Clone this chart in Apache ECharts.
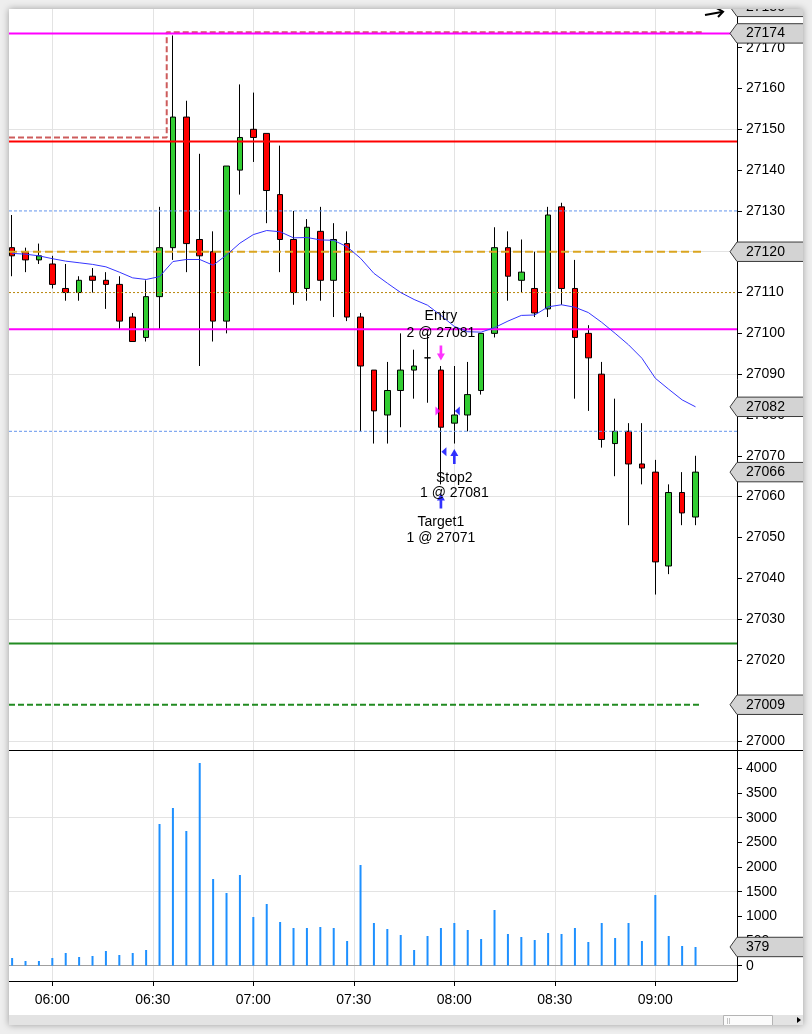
<!DOCTYPE html>
<html>
<head>
<meta charset="utf-8">
<title>YM 4 Minute</title>
<script src="https://cdn.jsdelivr.net/npm/echarts@6.0.0/dist/echarts.min.js"></script>
<style>
    * { padding: 0; margin: 0; }
    body { width: 812px; height: 1034px; background-color: #eeeeee; overflow: hidden; }
    #chart {
        position: absolute; left: 9px; top: 9px;
        width: 794px; height: 1016px;
        background-color: #ffffff;
        box-shadow: 0 0 7px rgba(0, 0, 0, 0.35);
        overflow: hidden;
    }
</style>
</head>
<body>
<div id="chart"></div>
<script>
    // 4 minute bars, time = minutes after midnight (05:48 .. 09:12)
    var barTimes = [348, 352, 356, 360, 364, 368, 372, 376, 380, 384, 388, 392, 396, 400, 404, 408, 412, 416,
        420, 424, 428, 432, 436, 440, 444, 448, 452, 456, 460, 464, 468, 472, 476, 480, 484, 488, 492, 496,
        500, 504, 508, 512, 516, 520, 524, 528, 532, 536, 540, 544, 548, 552];
    var opens = [27121, 27120, 27118, 27117, 27111, 27110, 27114, 27113, 27112, 27104, 27099, 27109, 27121, 27153,
        27123, 27120, 27103, 27140, 27150, 27149, 27134, 27123, 27111, 27125, 27113, 27122, 27104, 27091, 27080,
        27086, 27091, 27094, 27091, 27078, 27080, 27086, 27100, 27121, 27113, 27111, 27106, 27131, 27111, 27100,
        27090, 27073, 27076, 27068, 27066, 27043, 27061, 27055];
    var closes = [27119, 27118, 27119, 27112, 27110, 27113, 27113, 27112, 27103, 27098, 27109, 27121, 27153, 27122,
        27119, 27103, 27141, 27148, 27148, 27135, 27123, 27110, 27126, 27113, 27123, 27104, 27092, 27081, 27086,
        27091, 27092, 27094, 27077, 27080, 27085, 27100, 27121, 27114, 27115, 27105, 27129, 27111, 27099, 27094,
        27074, 27076, 27068, 27067, 27044, 27061, 27056, 27066];
    var lows = [27114, 27115, 27117, 27111, 27108, 27108, 27110, 27106, 27101, 27098, 27098, 27101, 27118, 27115,
        27092, 27098, 27100, 27134, 27142, 27127, 27115, 27107, 27108, 27108, 27104, 27103, 27076, 27073, 27073,
        27077, 27084, 27083, 27063, 27073, 27076, 27085, 27099, 27108, 27110, 27104, 27104, 27107, 27084, 27081,
        27072, 27065, 27053, 27063, 27036, 27041, 27053, 27053];
    var highs = [27129, 27121, 27122, 27119, 27117, 27114, 27116, 27115, 27114, 27105, 27113, 27131, 27173, 27157,
        27144, 27125, 27141, 27161, 27159, 27149, 27146, 27130, 27128, 27131, 27127, 27125, 27105, 27091, 27093,
        27100, 27096, 27100, 27092, 27092, 27093, 27100, 27126, 27125, 27123, 27120, 27131, 27132, 27118, 27102,
        27093, 27084, 27078, 27078, 27069, 27063, 27066, 27070];
    var volumes = [155, 95, 95, 155, 257, 176, 196, 297, 216, 257, 318, 2872, 3196, 2730, 4108, 1757, 1473, 1838,
        987, 1250, 885, 764, 764, 784, 764, 500, 2041, 865, 743, 622, 318, 601, 764, 865, 723, 541, 1128, 642,
        581, 520, 662, 642, 764, 480, 865, 561, 865, 500, 1432, 601, 399, 379];
    var maValues = [27119.6, 27119.4, 27119.0, 27118.3, 27117.7, 27117.3, 27116.9, 27116.3, 27115.0, 27113.6,
        27113.2, 27113.9, 27117.6, 27118.1, 27118.1, 27116.7, 27119.2, 27122.1, 27124.2, 27125.2, 27124.9,
        27123.4, 27123.5, 27122.9, 27122.8, 27121.2, 27118.4, 27114.7, 27112.3, 27110.0, 27108.3, 27106.9,
        27104.4, 27101.7, 27100.4, 27100.3, 27101.4, 27103.0, 27104.4, 27104.5, 27106.5, 27107.0, 27106.4,
        27105.1, 27102.7, 27100.0, 27097.2, 27093.9, 27089.0, 27086.3, 27083.7, 27082.0];

    // axis ticks
    var timeTicks = [360, 390, 420, 450, 480, 510, 540];
    var priceTicks = [27000, 27010, 27020, 27030, 27040, 27050, 27060, 27070, 27080, 27090, 27100, 27110, 27120,
        27130, 27140, 27150, 27160, 27170];
    var priceGrid = [27000, 27030, 27060, 27090, 27120, 27150];
    var volumeTicks = [0, 500, 1000, 1500, 2000, 2500, 3000, 3500, 4000];
    var volumeGrid = [1500, 3000];

    // drawn levels
    var highLevel = 27173.5;
    var boxLevel = 27148;
    var redLevel = 27147;
    var orangeLevel = 27120;
    var dottedLevel = 27110;
    var pinkLevel = 27101;
    var blueLevels = [27130, 27076];
    var greenLevel = 27024;
    var greenDashLevel = 27009;
    var boxStartTime = 394.15;
    var drawEndTime = 553.85;
    var topFlag = 27180;

    // executions
    var entryArrow = [[476, 27095.2]];
    var exitArrows = [[480, 27069.8], [476, 27058.9]];
    var entryFills = [[476, 27081]];
    var exitFills = [[480, 27081], [476, 27071]];
    var noteTimes = [476, 476, 480, 480, 476, 476];
    var notePrices = [27104.2, 27100.1, 27064.5, 27060.8, 27053.8, 27049.8];
    var noteTexts = ['Entry', '2 @ 27081', 'Stop2', '1 @ 27081', 'Target1', '1 @ 27071'];

    var XMIN = 347.07, XMAX = 564.38;
    var YMIN = 26997.91, YMAX = 27179.48;
    var VMIN = -310.7, VMAX = 4371.5;
    var FONT = '"Liberation Sans", Arial, sans-serif';

    function fmtTime(v) {
        var h = Math.floor(v / 60), m = Math.round(v % 60);
        return (h < 10 ? '0' : '') + h + ':' + (m < 10 ? '0' : '') + m;
    }
    function fmtPlain(v) { return String(Math.round(v)); }

    var candles = barTimes.map(function (t, i) { return [t, opens[i], closes[i], lows[i], highs[i]]; });
    var volData = barTimes.map(function (t, i) { return [t, volumes[i]]; });
    var maData = barTimes.map(function (t, i) { return [t, maValues[i]]; });

    function level(points, color, width, type, z) {
        return {
            type: 'line', xAxisIndex: 0, yAxisIndex: 0, data: points, symbol: 'none', silent: true, z: z || 4,
            lineStyle: { color: color, width: width, type: type || 'solid' }
        };
    }
    function gridLines(xi, yi, data, color) {
        return {
            type: 'line', xAxisIndex: xi, yAxisIndex: yi, data: [], silent: true, z: 1,
            markLine: {
                silent: true, symbol: 'none', z: 1, animation: false, label: { show: false },
                lineStyle: { color: color, width: 1, type: 'solid' },
                data: data
            }
        };
    }

    var arrowDown = 'path://M3,0 L6,0 L6,8 L9,8 L4.5,15 L0,8 L3,8 Z';
    var arrowUp = 'path://M4.5,0 L9,7 L6,7 L6,15 L3,15 L3,7 L0,7 Z';
    var triRight = 'path://M0,0 L5,4.5 L0,9 Z';
    var triLeft = 'path://M5,0 L0,4.5 L5,9 Z';

    var series = [
        gridLines(0, 0, priceGrid.map(function (v) { return { yAxis: v }; })
            .concat(timeTicks.map(function (t) { return { xAxis: t }; })), '#e3e3e3'),
        gridLines(1, 1, volumeGrid.map(function (v) { return { yAxis: v }; })
            .concat(timeTicks.map(function (t) { return { xAxis: t }; })), '#e3e3e3'),
        gridLines(1, 1, [{ yAxis: 0 }], '#a0a0a0'),
        {
            type: 'bar', xAxisIndex: 1, yAxisIndex: 1, data: volData, barWidth: 2, z: 3,
            itemStyle: { color: '#1E90FF' }, silent: true
        },
        {
            type: 'candlestick', xAxisIndex: 0, yAxisIndex: 0, data: candles, barWidth: 6, z: 3, silent: true,
            itemStyle: {
                color: '#32CD32', color0: '#FF0000',
                borderColor: '#000', borderColor0: '#000', borderColorDoji: '#000', borderWidth: 1
            }
        },
        level([[XMIN, boxLevel], [boxStartTime, boxLevel], [boxStartTime, highLevel + 0.3], [drawEndTime, highLevel + 0.3]],
            '#CD5C5C', 2, [6, 3]),
        level([[XMIN, highLevel], [XMAX, highLevel]], '#FF00FF', 2),
        level([[XMIN, redLevel], [XMAX, redLevel]], '#FF0000', 2),
        level([[XMIN, blueLevels[0]], [XMAX, blueLevels[0]]], '#6495ED', 1, [3, 2]),
        level([[XMIN, blueLevels[1]], [XMAX, blueLevels[1]]], '#6495ED', 1, [3, 2]),
        level([[XMIN, orangeLevel], [drawEndTime, orangeLevel]], '#DAA520', 2, [8, 4]),
        level([[XMIN, dottedLevel], [XMAX, dottedLevel]], '#B8860B', 1, [2, 2]),
        level([[XMIN, pinkLevel], [XMAX, pinkLevel]], '#FF00FF', 2),
        level([[XMIN, greenLevel], [XMAX, greenLevel]], '#228B22', 2),
        level([[XMIN, greenDashLevel], [drawEndTime, greenDashLevel]], '#228B22', 2, [6, 3]),
        {
            type: 'line', xAxisIndex: 0, yAxisIndex: 0, data: maData, symbol: 'none', silent: true, z: 5,
            lineStyle: { color: '#3535ff', width: 1 }
        },
        {
            type: 'scatter', xAxisIndex: 0, yAxisIndex: 0, data: entryArrow, symbol: arrowDown, symbolSize: [8, 15],
            itemStyle: { color: '#FF00FF' }, z: 6, silent: true
        },
        {
            type: 'scatter', xAxisIndex: 0, yAxisIndex: 0, data: exitArrows, symbol: arrowUp, symbolSize: [8, 15],
            itemStyle: { color: '#0000FF' }, z: 6, silent: true
        },
        {
            type: 'scatter', xAxisIndex: 0, yAxisIndex: 0, data: entryFills, symbol: triRight, symbolSize: [5, 9],
            symbolOffset: [-3, 0], itemStyle: { color: '#FF00FF' }, z: 6, silent: true
        },
        {
            type: 'scatter', xAxisIndex: 0, yAxisIndex: 0, data: exitFills, symbol: triLeft, symbolSize: [5, 9],
            symbolOffset: [3, 0], itemStyle: { color: '#0000FF' }, z: 6, silent: true
        },
        {
            type: 'scatter', xAxisIndex: 0, yAxisIndex: 0, z: 7, silent: true,
            data: noteTimes.map(function (t, i) { return [t, notePrices[i]]; }),
            symbolSize: 1, itemStyle: { color: 'rgba(0,0,0,0)' },
            label: {
                show: true, position: 'inside', color: '#000', fontSize: 14, fontFamily: FONT,
                textBorderWidth: 0, opacity: 1,
                formatter: function (p) { return noteTexts[p.dataIndex]; }
            }
        }
    ];

    var axisText = { color: '#000', fontSize: 14, fontFamily: FONT };
    var option = {
        animation: false,
        grid: [
            { left: 0, top: 0, width: 728, height: 741 },
            { left: 0, top: 741, width: 728, height: 231 }
        ],
        xAxis: [
            { gridIndex: 0, type: 'value', min: XMIN, max: XMAX, show: false },
            {
                gridIndex: 1, type: 'value', min: XMIN, max: XMAX,
                axisLine: { show: true, onZero: false, lineStyle: { color: '#000', width: 1 } },
                axisTick: { show: true, customValues: timeTicks, length: 5, lineStyle: { color: '#000' } },
                axisLabel: Object.assign({ customValues: timeTicks, formatter: fmtTime, margin: 12 }, axisText),
                splitLine: { show: false }
            }
        ],
        yAxis: [
            {
                gridIndex: 0, type: 'value', position: 'right', min: YMIN, max: YMAX,
                axisLine: { show: true, onZero: false, lineStyle: { color: '#000', width: 1 } },
                axisTick: { show: true, customValues: priceTicks, length: 5, lineStyle: { color: '#000' } },
                axisLabel: Object.assign({ customValues: priceTicks, formatter: fmtPlain, margin: 9 }, axisText),
                splitLine: { show: false }
            },
            {
                gridIndex: 1, type: 'value', position: 'right', min: VMIN, max: VMAX,
                axisLine: { show: true, onZero: false, lineStyle: { color: '#000', width: 1 } },
                axisTick: { show: true, customValues: volumeTicks, length: 5, lineStyle: { color: '#000' } },
                axisLabel: Object.assign({ customValues: volumeTicks, formatter: fmtPlain, margin: 9 }, axisText),
                splitLine: { show: false }
            }
        ],
        series: series
    };

    var chart = echarts.init(document.getElementById('chart'));
    chart.setOption(option);

    // value flags on the price / volume axis
    function makeFlag(y, text) {
        return {
            type: 'group', children: [
                {
                    type: 'polygon', z: 100,
                    shape: { points: [[728, y - 9.7], [800, y - 9.7], [800, y + 9.7], [728, y + 9.7], [721, y]] },
                    style: { fill: '#d3d3d3', stroke: '#3a3a3a', lineWidth: 1 }
                },
                {
                    type: 'text', z: 101, x: 737, y: y,
                    style: { text: String(text), fill: '#000', font: '14px ' + FONT, verticalAlign: 'middle' }
                }
            ]
        };
    }
    var priceFlags = [topFlag, highLevel, orangeLevel, maValues[maValues.length - 1],
        closes[closes.length - 1], greenDashLevel];
    var volumeFlags = [volumes[volumes.length - 1]];

    var graphics = [
        { type: 'line', z: 90, shape: { x1: 0, y1: 741.5, x2: 794, y2: 741.5 }, style: { stroke: '#000', lineWidth: 1 } },
        { type: 'rect', z: 90, shape: { x: 0, y: 1006, width: 794, height: 10 }, style: { fill: '#e3e3e3' } },
        { type: 'rect', z: 91, shape: { x: 714.5, y: 1006.5, width: 49, height: 10 }, style: { fill: '#fbfbfb', stroke: '#b4b4b4' } },
        { type: 'line', z: 92, shape: { x1: 718.5, y1: 1009, x2: 718.5, y2: 1015 }, style: { stroke: '#c4c4c4' } },
        { type: 'line', z: 92, shape: { x1: 720.5, y1: 1009, x2: 720.5, y2: 1015 }, style: { stroke: '#c4c4c4' } },
        { type: 'polygon', z: 92, shape: { points: [[788, 1008], [792, 1011], [788, 1014]] }, style: { fill: '#000' } },
        { type: 'polyline', z: 92, shape: { points: [[696, 6], [714, 2.7]] }, style: { stroke: '#000', lineWidth: 2 } },
        { type: 'polyline', z: 92, shape: { points: [[707.5, -1], [714, 2.7], [709, 8]] }, style: { stroke: '#000', lineWidth: 2, fill: null } }
    ];
    priceFlags.forEach(function (v) {
        graphics.push(makeFlag(chart.convertToPixel({ yAxisIndex: 0 }, v), Math.round(v)));
    });
    volumeFlags.forEach(function (v) {
        graphics.push(makeFlag(chart.convertToPixel({ yAxisIndex: 1 }, v), Math.round(v)));
    });
    chart.setOption({ graphic: graphics });
</script>
</body>
</html>
